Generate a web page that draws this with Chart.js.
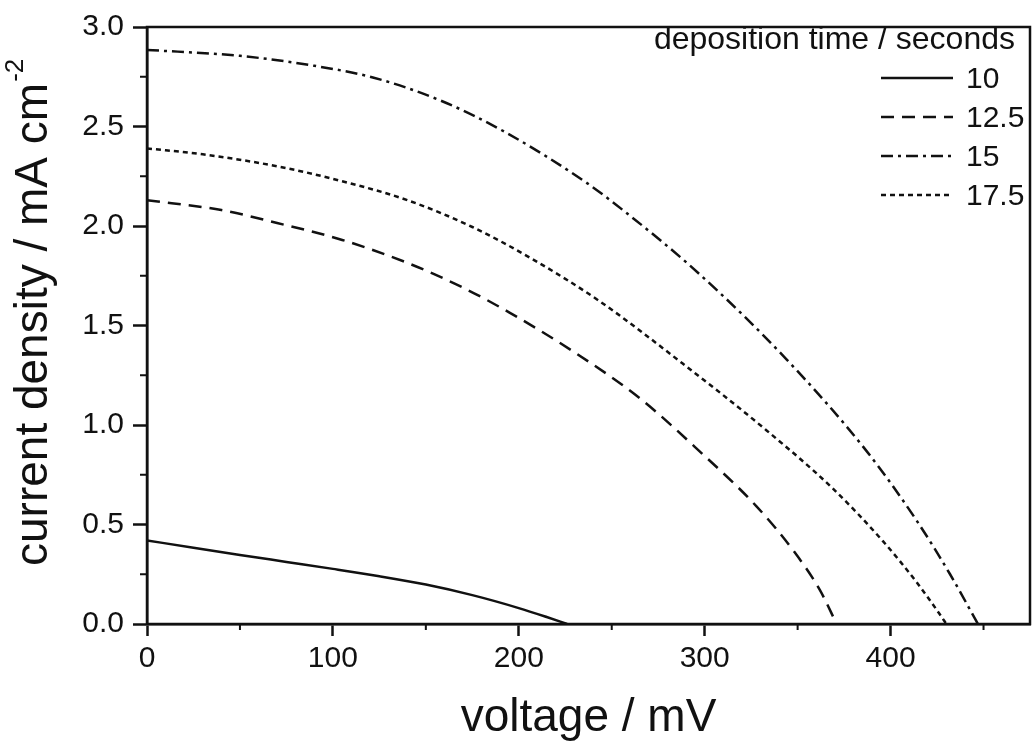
<!DOCTYPE html>
<html>
<head>
<meta charset="utf-8">
<script src="https://cdn.jsdelivr.net/npm/chart.js@4.4.1/dist/chart.umd.min.js"></script>
<style>
  html, body { margin: 0; padding: 0; background: #fff; }
  #wrap { width: 1036px; height: 748px; position: relative; }
</style>
</head>
<body>
<div id="wrap"><canvas id="jvChart"></canvas></div>
<script>
// J-V curves for several deposition times

const seriesNames = ['10', '12.5', '15', '17.5'];

// voltage in mV, current density in mA cm-2
const v10 = [0, 25, 50, 75, 100, 125, 150, 175, 200, 215, 226];
const j10 = [0.42, 0.383, 0.347, 0.312, 0.277, 0.24, 0.198, 0.145, 0.08, 0.035, 0];

const v125 = [0, 40, 70, 105, 140, 170, 195, 230, 265, 297, 328, 348, 362, 371];
const j125 = [2.13, 2.08, 2.015, 1.93, 1.815, 1.69, 1.565, 1.365, 1.135, 0.87, 0.59, 0.365, 0.17, 0];

const v15 = [0, 50, 90, 122, 158, 193, 236, 256, 297, 344, 387, 414, 432, 447];
const j15 = [2.885, 2.855, 2.805, 2.745, 2.63, 2.47, 2.22, 2.08, 1.76, 1.33, 0.87, 0.52, 0.25, 0];

const v175 = [0, 30, 70, 105, 140, 175, 208, 243, 288, 333, 369, 396, 414, 426, 430];
const j175 = [2.39, 2.36, 2.3, 2.225, 2.13, 1.995, 1.83, 1.625, 1.31, 0.975, 0.68, 0.415, 0.21, 0.055, 0];

// line styles: solid, dash, dash-dot, dot
const dashes = [[], [13, 8], [12, 5, 3, 5], [5, 4]];

// axis ticks
const xTicks = [0, 100, 200, 300, 400];
const xMinorTicks = [50, 150, 250, 350, 450];
const yTicks = [0, 0.5, 1.0, 1.5, 2.0, 2.5, 3.0];
const yMinorTicks = [0.25, 0.75, 1.25, 1.75, 2.25, 2.75];

const ink = '#111';
const fontFamily = '"Liberation Sans", Arial, sans-serif';

function toPoints(vs, js) {
  return vs.map((v, i) => ({ x: v, y: js[i] }));
}

const allV = [v10, v125, v15, v175];
const allJ = [j10, j125, j15, j175];

const datasets = seriesNames.map((name, i) => ({
  label: name,
  data: toPoints(allV[i], allJ[i]),
  borderColor: ink,
  borderWidth: 2.5,
  borderDash: dashes[i],
  pointRadius: 0,
  fill: false,
  cubicInterpolationMode: 'monotone'
}));

// frame, minor ticks, y title with superscript, legend
const decorations = {
  id: 'decorations',
  afterDatasetsDraw(chart) {
    const ctx = chart.ctx;
    const area = chart.chartArea;
    const xs = chart.scales.x;
    const ys = chart.scales.y;

    ctx.save();
    ctx.strokeStyle = ink;
    ctx.lineWidth = 2.5;
    ctx.strokeRect(area.left, area.top, area.right - area.left, area.bottom - area.top);

    // minor ticks
    ctx.lineWidth = 2;
    ctx.beginPath();
    xMinorTicks.forEach(v => {
      const px = xs.getPixelForValue(v);
      ctx.moveTo(px, area.bottom);
      ctx.lineTo(px, area.bottom + 6);
    });
    yMinorTicks.forEach(v => {
      const py = ys.getPixelForValue(v);
      ctx.moveTo(area.left, py);
      ctx.lineTo(area.left - 7, py);
    });
    ctx.stroke();

    // y axis title
    ctx.fillStyle = ink;
    ctx.translate(47, 566);
    ctx.rotate(-Math.PI / 2);
    ctx.textAlign = 'left';
    ctx.textBaseline = 'alphabetic';
    ctx.font = '46px ' + fontFamily;
    const mainTitle = 'current density / mA cm';
    ctx.fillText(mainTitle, 0, 0);
    const w = ctx.measureText(mainTitle).width;
    ctx.font = '26px ' + fontFamily;
    ctx.fillText('-2', w + 1, -24);
    ctx.restore();

    // legend
    ctx.save();
    ctx.fillStyle = ink;
    ctx.strokeStyle = ink;
    ctx.textBaseline = 'alphabetic';
    ctx.textAlign = 'right';
    ctx.font = '32px ' + fontFamily;
    ctx.fillText('deposition time / seconds', 1015, 49);
    ctx.textAlign = 'left';
    ctx.font = '30px ' + fontFamily;
    chart.data.datasets.forEach((ds, i) => {
      const base = 88 + i * 39;
      ctx.lineWidth = 2.5;
      ctx.setLineDash(ds.borderDash);
      ctx.beginPath();
      ctx.moveTo(881, base - 10);
      ctx.lineTo(953, base - 10);
      ctx.stroke();
      ctx.setLineDash([]);
      ctx.fillText(ds.label, 966, base);
    });
    ctx.restore();
  }
};

new Chart(document.getElementById('jvChart').getContext('2d'), {
  type: 'line',
  data: { datasets },
  plugins: [decorations],
  options: {
    responsive: true,
    maintainAspectRatio: false,
    animation: false,
    devicePixelRatio: 1,
    layout: { padding: { left: 0, top: 15, right: 6, bottom: 0 } },
    plugins: {
      legend: { display: false },
      tooltip: { enabled: false }
    },
    scales: {
      x: {
        type: 'linear',
        min: 0,
        max: 475,
        afterFit: scale => { scale.height = 124; },
        afterBuildTicks: scale => { scale.ticks = xTicks.map(v => ({ value: v })); },
        border: { display: true, color: ink, width: 2.5 },
        grid: {
          drawOnChartArea: false,
          drawTicks: true,
          tickLength: 12,
          tickWidth: 2.5,
          tickColor: ink
        },
        ticks: {
          color: ink,
          padding: 5,
          maxRotation: 0,
          font: { family: fontFamily, size: 30 }
        },
        title: {
          display: true,
          text: 'voltage / mV',
          color: ink,
          padding: { top: 0, bottom: 2 },
          font: { family: fontFamily, size: 46 }
        }
      },
      y: {
        type: 'linear',
        min: 0,
        max: 3,
        afterFit: scale => { scale.width = 147; },
        afterBuildTicks: scale => { scale.ticks = yTicks.map(v => ({ value: v })); },
        border: { display: true, color: ink, width: 2.5 },
        grid: {
          drawOnChartArea: false,
          drawTicks: true,
          tickLength: 14,
          tickWidth: 2.5,
          tickColor: ink
        },
        ticks: {
          color: ink,
          padding: 9,
          font: { family: fontFamily, size: 30 },
          callback: value => value.toFixed(1)
        }
      }
    }
  }
});
</script>
</body>
</html>
